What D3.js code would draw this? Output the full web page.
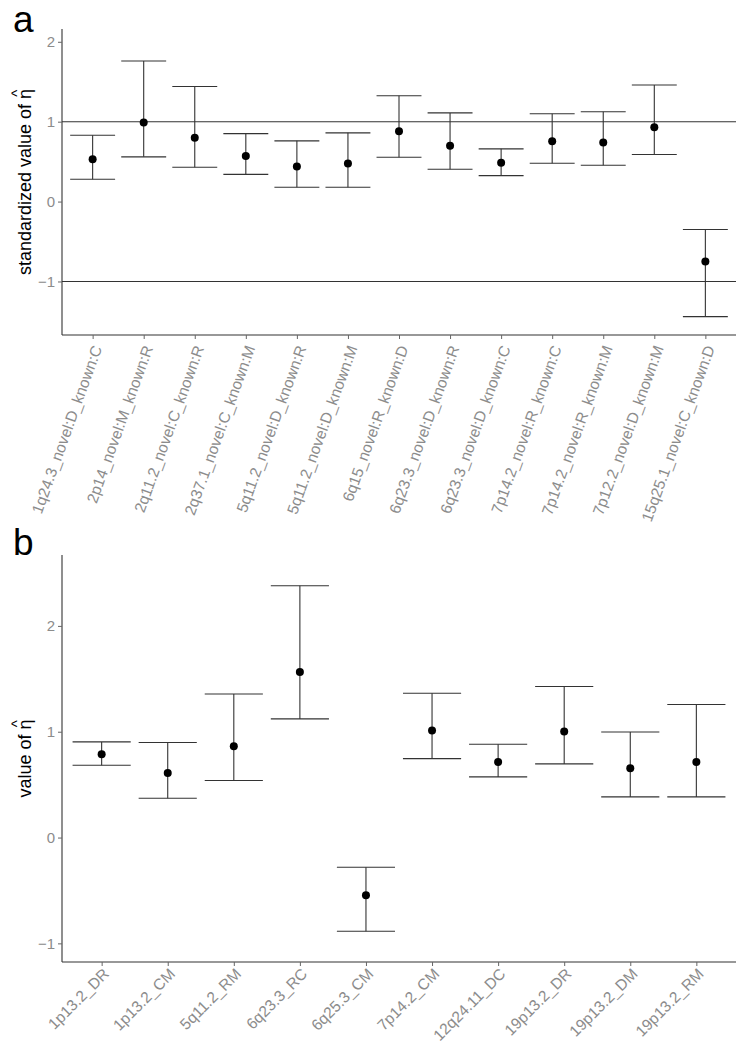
<!DOCTYPE html>
<html><head><meta charset="utf-8">
<script src="https://cdn.jsdelivr.net/npm/d3@7/dist/d3.min.js"></script>
<style>
body{margin:0;background:#fff;}
svg{display:block;}
text{font-family:"Liberation Sans",Arial,Helvetica,sans-serif;}
</style></head>
<body>
<svg id="chart" width="746" height="1048"></svg>
<script>
// ---- Panel a data ----
const catsA = ["1q24.3_novel:D_known:C","2p14_novel:M_known:R","2q11.2_novel:C_known:R","2q37.1_novel:C_known:M","5q11.2_novel:D_known:R","5q11.2_novel:D_known:M","6q15_novel:R_known:D","6q23.3_novel:D_known:R","6q23.3_novel:D_known:C","7p14.2_novel:R_known:C","7p14.2_novel:R_known:M","7p12.2_novel:D_known:M","15q25.1_novel:C_known:D"];
const estA = [0.53,0.99,0.80,0.57,0.44,0.475,0.88,0.70,0.485,0.755,0.74,0.93,-0.75];
const lowA = [0.28,0.56,0.43,0.34,0.18,0.18,0.555,0.405,0.325,0.48,0.455,0.59,-1.44];
const highA = [0.83,1.76,1.44,0.85,0.76,0.86,1.325,1.11,0.66,1.10,1.125,1.46,-0.35];
const ticksA = [-1,0,1,2];
const refLinesA = [1,-1];
const yDomainA = [-1.67,2.16];

// ---- Panel b data ----
const catsB = ["1p13.2_DR","1p13.2_CM","5q11.2_RM","6q23.3_RC","6q25.3_CM","7p14.2_CM","12q24.11_DC","19p13.2_DR","19p13.2_DM","19p13.2_RM"];
const estB = [0.787,0.61,0.863,1.565,-0.545,1.011,0.715,1.002,0.655,0.715];
const lowB = [0.683,0.371,0.539,1.121,-0.886,0.746,0.573,0.696,0.384,0.384];
const highB = [0.904,0.898,1.357,2.38,-0.28,1.364,0.882,1.427,0.998,1.257];
const ticksB = [-1,0,1,2];
const yDomainB = [-1.176,2.67];

const svg = d3.select("#chart");
const lineCol = "#333";
const tickTextCol = "#8c8c8c";

function panel(opts){
  const {cats, est, low, high, ticks, yDomain, top, bottom, left, right, angle, title, letter, letterY, refLines} = opts;
  const g = svg.append("g");
  const x = d3.scalePoint().domain(cats).range([left,right]).padding(0.6);
  const y = d3.scaleLinear().domain(yDomain).range([bottom,top]);
  const step = x.step();
  const capW = step*0.88;

  g.selectAll("line.ref").data(refLines||[]).join("line")
    .attr("x1",left).attr("x2",right)
    .attr("y1",d=>y(d)).attr("y2",d=>y(d))
    .attr("stroke",lineCol).attr("stroke-width",1.1);

  const data = cats.map((c,i)=>({c,e:est[i],lo:low[i],hi:high[i]}));
  const eb = g.selectAll("g.eb").data(data).join("g");
  eb.append("line").attr("x1",d=>x(d.c)).attr("x2",d=>x(d.c))
    .attr("y1",d=>y(d.lo)).attr("y2",d=>y(d.hi))
    .attr("stroke",lineCol).attr("stroke-width",1.1);
  eb.append("line").attr("x1",d=>x(d.c)-capW/2).attr("x2",d=>x(d.c)+capW/2)
    .attr("y1",d=>y(d.lo)).attr("y2",d=>y(d.lo))
    .attr("stroke",lineCol).attr("stroke-width",1.1);
  eb.append("line").attr("x1",d=>x(d.c)-capW/2).attr("x2",d=>x(d.c)+capW/2)
    .attr("y1",d=>y(d.hi)).attr("y2",d=>y(d.hi))
    .attr("stroke",lineCol).attr("stroke-width",1.1);
  eb.append("circle").attr("cx",d=>x(d.c)).attr("cy",d=>y(d.e)).attr("r",4).attr("fill","#000");

  const ya = g.append("g").attr("transform",`translate(${left},0)`)
    .call(d3.axisLeft(y).tickValues(ticks).tickFormat(d=>d<0?"\u2212"+Math.abs(d):d).tickSize(4).tickPadding(3));
  ya.attr("font-size",15).attr("font-family","Liberation Sans, Arial, sans-serif");
  ya.select(".domain").attr("stroke",lineCol).attr("stroke-width",1.1).attr("d",`M0,${top}V${bottom}`);
  ya.selectAll(".tick line").attr("stroke","#666");
  ya.selectAll(".tick text").attr("fill",tickTextCol).style("font-size","15px");

  const xa = g.append("g").attr("transform",`translate(0,${bottom})`)
    .call(d3.axisBottom(x).tickSize(4).tickPadding(0));
  xa.attr("font-size",opts.xfs).attr("font-family","Liberation Sans, Arial, sans-serif");
  xa.select(".domain").attr("stroke",lineCol).attr("stroke-width",1.1).attr("d",`M${left},0H${right}`);
  xa.selectAll(".tick line").attr("stroke","#666");
  xa.selectAll(".tick text")
    .attr("fill",tickTextCol).style("font-size",opts.xfs+"px")
    .attr("text-anchor","end").attr("y",0).attr("dy","0.35em")
    .attr("transform",`translate(${opts.lx},${opts.ly}) rotate(${-angle})`);

  const cy = (top+bottom)/2;
  const t = g.append("text").attr("transform",`translate(${opts.titleX},${cy}) rotate(-90)`)
    .attr("text-anchor","middle").style("font-size","18px").attr("fill","#000");
  t.append("tspan").text(title + " ");
  t.append("tspan").text("\u03B7");
  t.append("tspan").text("^").attr("dx","-0.52em").attr("dy","-0.62em").style("font-size","15px");

  svg.append("text").attr("x",13).attr("y",letterY).style("font-size","37px").attr("fill","#000").text(letter);
}

panel({cats:catsA, est:estA, low:lowA, high:highA, ticks:ticksA, yDomain:yDomainA,
  top:29, bottom:335, left:62, right:736, angle:70, title:"standardized value of",
  letter:"a", letterY:32, refLines:refLinesA, titleX:31, lx:4, ly:11, xfs:15.5});
panel({cats:catsB, est:estB, low:lowB, high:highB, ticks:ticksB, yDomain:yDomainB,
  top:555, bottom:962, left:62, right:736, angle:45, title:"value of",
  letter:"b", letterY:555, refLines:[], titleX:31, lx:4, ly:9, xfs:15.5});
</script>
</body></html>
